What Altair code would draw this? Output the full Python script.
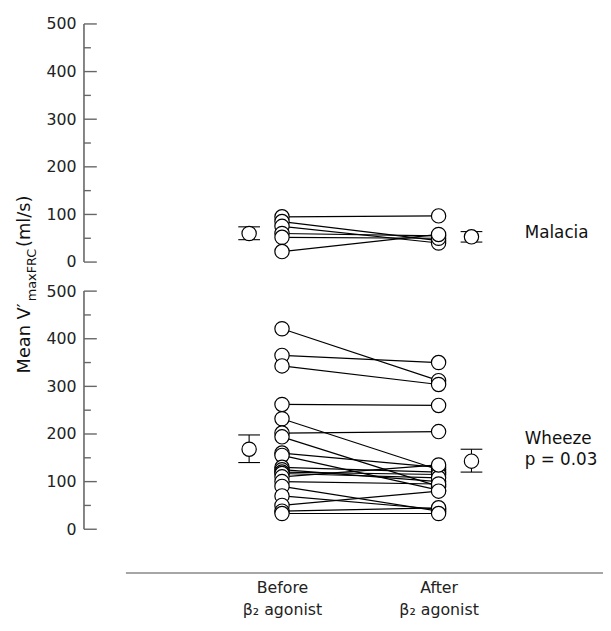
import altair as alt
import pandas as pd

# ---------------- data ----------------
malacia_before = [95, 85, 75, 60, 52, 22]
malacia_after = [97, 45, 40, 55, 50, 58]
malacia_mean = [60, 53]          # before, after
malacia_low = [47, 42]
malacia_high = [74, 64]

wheeze_before = [421, 365, 343, 262, 232, 202, 194, 160, 155, 130,
                 125, 120, 117, 110, 100, 90, 70, 50, 38, 33]
wheeze_after = [312, 350, 304, 260, 125, 205, 90, 130, 82, 120,
                100, 115, 108, 135, 95, 38, 42, 80, 45, 33]
wheeze_mean = [168, 143]
wheeze_low = [140, 120]
wheeze_high = [198, 168]

major_ticks = [0, 100, 200, 300, 400, 500]
minor_ticks = [50, 150, 250, 350, 450]

# ---------------- layout helpers (not data) ----------------
OFFSET = {"Malacia": 561, "Wheeze": 0}      # panel stacking on a shared y scale
POS_BEFORE, POS_AFTER = 1.0, 2.0
POS_MEAN = [0.79, 2.21]
LABEL_X = 2.55
FONT = "DejaVu Sans"
INK = "#000000"
AXIS_GREY = "#666666"

pairs, pts, means, ticks_major, ticks_minor, spines = [], [], [], [], [], []
for g, b, a, m, lo, hi in [
    ("Malacia", malacia_before, malacia_after, malacia_mean, malacia_low, malacia_high),
    ("Wheeze", wheeze_before, wheeze_after, wheeze_mean, wheeze_low, wheeze_high),
]:
    off = OFFSET[g]
    for vb, va in zip(b, a):
        pairs.append({"x1": POS_BEFORE, "x2": POS_AFTER, "y1": vb + off, "y2": va + off})
        pts.append({"x": POS_BEFORE, "y": vb + off})
        pts.append({"x": POS_AFTER, "y": va + off})
    for i in range(2):
        means.append({"x": POS_MEAN[i], "y": m[i] + off, "lo": lo[i] + off, "hi": hi[i] + off})
    for t in major_ticks:
        ticks_major.append({"y": t + off})
    for t in minor_ticks:
        ticks_minor.append({"y": t + off})
    spines.append({"y1": major_ticks[0] + off, "y2": major_ticks[-1] + off})

label_values = [t + OFFSET["Wheeze"] for t in major_ticks] + [t + OFFSET["Malacia"] for t in major_ticks]

annotations = pd.DataFrame([
    {"x": LABEL_X, "y": 60 + OFFSET["Malacia"], "text": "Malacia"},
    {"x": LABEL_X, "y": 190 + OFFSET["Wheeze"], "text": "Wheeze"},
    {"x": LABEL_X, "y": 145 + OFFSET["Wheeze"], "text": "p = 0.03"},
])

xs = alt.Scale(domain=[0, 3.05], nice=False, zero=False)
ys = alt.Scale(domain=[-91, 1061], nice=False, zero=False)

x_axis = alt.Axis(
    title=None, values=[1, 2], ticks=False, tickSize=0, grid=False,
    domainColor="#888888", domainWidth=1.6,
    labelExpr="datum.value == 1 ? ['Before', 'β₂ agonist'] : ['After', 'β₂ agonist']",
    labelFont=FONT, labelFontSize=16, labelColor="#222222", labelPadding=7,
    labelLineHeight=22, labelBaseline="top",
)
y_axis = alt.Axis(
    title=None, values=label_values, ticks=False, tickSize=0, domain=False, grid=False,
    offset=42, labelPadding=8, labelFont=FONT, labelFontSize=16, labelColor="#222222",
    labelExpr="format(datum.value >= 561 ? datum.value - 561 : datum.value, 'd')",
)

X = lambda f: alt.X(f, type="quantitative", scale=xs, axis=x_axis)
Y = lambda f: alt.Y(f, type="quantitative", scale=ys, axis=y_axis)

spine_layer = alt.Chart(pd.DataFrame(spines)).mark_rule(color=AXIS_GREY, strokeWidth=1.6).encode(
    x=alt.value(-42), y=Y("y1"), y2="y2")
major_layer = alt.Chart(pd.DataFrame(ticks_major)).mark_rule(color=AXIS_GREY, strokeWidth=1.4).encode(
    x=alt.value(-42), x2=alt.value(-29), y=Y("y"))
minor_layer = alt.Chart(pd.DataFrame(ticks_minor)).mark_rule(color=AXIS_GREY, strokeWidth=1.4).encode(
    x=alt.value(-42), x2=alt.value(-35), y=Y("y"))

pair_layer = alt.Chart(pd.DataFrame(pairs)).mark_rule(color=INK, strokeWidth=1.2).encode(
    x=X("x1"), x2="x2", y=Y("y1"), y2="y2")

err_layer = alt.Chart(pd.DataFrame(means)).mark_rule(color=INK, strokeWidth=1.1).encode(
    x=X("x"), y=Y("lo"), y2="hi")
cap_lo = alt.Chart(pd.DataFrame(means)).mark_tick(orient="horizontal", size=22, thickness=1.1, color=INK, opacity=1).encode(
    x=X("x"), y=Y("lo"))
cap_hi = alt.Chart(pd.DataFrame(means)).mark_tick(orient="horizontal", size=22, thickness=1.1, color=INK, opacity=1).encode(
    x=X("x"), y=Y("hi"))

circ = dict(size=210, fill="white", stroke=INK, strokeWidth=1.2, opacity=1)
pt_layer = alt.Chart(pd.DataFrame(pts)).mark_circle(**circ).encode(x=X("x"), y=Y("y"))
mean_layer = alt.Chart(pd.DataFrame(means)).mark_circle(**circ).encode(x=X("x"), y=Y("y"))

text_layer = alt.Chart(annotations).mark_text(
    align="left", baseline="middle", font=FONT, fontSize=17, color="#111111").encode(
    x=X("x"), y=Y("y"), text="text:N")

title_df = pd.DataFrame({"a": [0]})
t_main = alt.Chart(title_df).mark_text(text="Mean V′", angle=270, align="right", baseline="alphabetic",
                                       font=FONT, fontSize=18, color="#111111").encode(
    x=alt.value(-97), y=alt.value(283))
t_sub = alt.Chart(title_df).mark_text(text="maxFRC", angle=270, align="left", baseline="alphabetic",
                                      font=FONT, fontSize=13, color="#111111").encode(
    x=alt.value(-91), y=alt.value(281))
t_unit = alt.Chart(title_df).mark_text(text=" (ml/s)", angle=270, align="left", baseline="alphabetic",
                                       font=FONT, fontSize=18, color="#111111").encode(
    x=alt.value(-97), y=alt.value(226))

chart = alt.layer(
    spine_layer, major_layer, minor_layer, pair_layer, err_layer, cap_lo, cap_hi,
    pt_layer, mean_layer, text_layer, t_main, t_sub, t_unit,
).properties(
    width=484, height=556,
    padding={"left": 119, "top": 12, "right": 0, "bottom": 52},
    autosize=alt.AutoSizeParams(type="none"),
).configure_view(strokeWidth=0)

chart.save("out.html", embed_options={"renderer": "svg", "actions": False})
